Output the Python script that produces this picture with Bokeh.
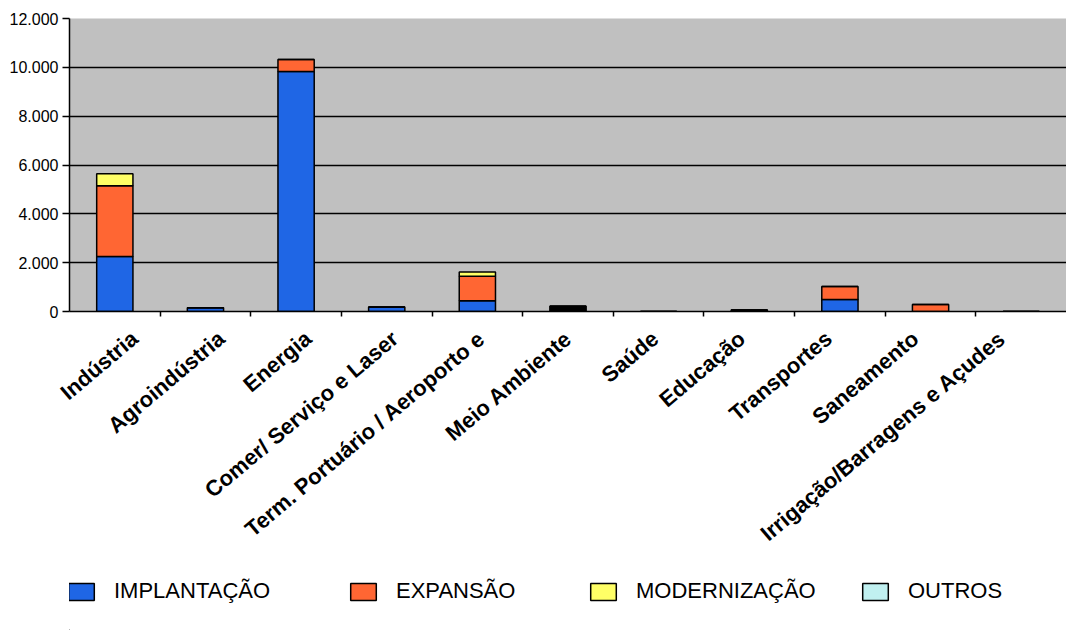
import numpy as np
from bokeh.plotting import figure
from bokeh.layouts import column
from bokeh.models import ColumnDataSource, Range1d, FixedTicker, Legend, LegendItem
from bokeh.embed import file_html
from bokeh.resources import INLINE

categories = ["Indústria", "Agroindústria", "Energia", "Comer/ Serviço e Laser",
              "Term. Portuário / Aeroporto e", "Meio Ambiente", "Saúde", "Educação",
              "Transportes", "Saneamento", "Irrigação/Barragens e Açudes"]
implantacao = [2250, 150, 9830, 180, 440, 220, 0, 60, 490, 0, 0]
expansao = [2900, 0, 490, 0, 1000, 0, 0, 0, 530, 290, 0]
modernizacao = [490, 0, 0, 0, 180, 0, 0, 0, 0, 0, 0]
outros = [0] * 11
series_names = ["IMPLANTAÇÃO", "EXPANSÃO", "MODERNIZAÇÃO", "OUTROS"]
series_colors = ["#1f66e5", "#ff6633", "#ffff66", "#c0f0f0"]
implantacao_fill = ["#1f66e5"] * 5 + ["#000000"] + ["#1f66e5"] * 5
y_ticks = [0, 2000, 4000, 6000, 8000, 10000, 12000]
y_labels = ["0", "2.000", "4.000", "6.000", "8.000", "10.000", "12.000"]

n = len(categories)
centers = [i + 0.5 for i in range(n)]
bounds = [i for i in range(1, n)]
# label anchors (the original's labels sit on a slightly tighter pitch than the bars)
label_pos = [0.72 + i * 0.957 for i in range(n)]

p = figure(width=1066, height=570, output_backend="svg", toolbar_location=None,
           x_range=Range1d(0, n), y_range=Range1d(0, 12000),
           min_border_left=69, min_border_right=0, min_border_top=18, min_border_bottom=259)
p.background_fill_color = "#c0c0c0"
p.border_fill_color = "white"
p.outline_line_color = None

vals = np.array([implantacao, expansao, modernizacao, outros], dtype=float)
cum = np.vstack([np.zeros(n), np.cumsum(vals, axis=0)])
for k in range(3):
    fills = implantacao_fill if k == 0 else [series_colors[k]] * n
    src = ColumnDataSource(dict(x=centers, bottom=cum[k], top=cum[k + 1], fill=fills))
    p.vbar(x="x", bottom="bottom", top="top", width=0.4, source=src,
           fill_color="fill", line_color="black", line_width=1.5)

p.xgrid.visible = False
p.ygrid.ticker = FixedTicker(ticks=y_ticks)
p.ygrid.grid_line_color = "black"
p.ygrid.grid_line_width = 1.5

p.yaxis.ticker = FixedTicker(ticks=y_ticks)
p.yaxis.major_label_overrides = {t: l for t, l in zip(y_ticks, y_labels)}
p.yaxis.major_label_text_font = "Liberation Sans"
p.yaxis.major_label_text_font_size = "16px"
p.yaxis.major_label_text_color = "black"
p.yaxis.axis_line_color = "black"
p.yaxis.axis_line_width = 1.5
p.yaxis.major_tick_out = 7
p.yaxis.major_tick_in = 0
p.yaxis.minor_tick_out = 0
p.yaxis.major_tick_line_width = 1.5
p.yaxis.major_label_standoff = 4

p.xaxis.ticker = FixedTicker(ticks=label_pos, minor_ticks=bounds)
p.xaxis.major_label_overrides = {c: l for c, l in zip(label_pos, categories)}
p.xaxis.major_label_orientation = 0.70
p.xaxis.major_label_text_font = "Liberation Sans"
p.xaxis.major_label_text_font_style = "bold"
p.xaxis.major_label_text_font_size = "22px"
p.xaxis.major_label_text_color = "black"
p.xaxis.major_tick_out = 0
p.xaxis.major_tick_in = 0
p.xaxis.minor_tick_out = 5
p.xaxis.minor_tick_in = 0
p.xaxis.minor_tick_line_color = "black"
p.xaxis.minor_tick_line_width = 1.5
p.xaxis.axis_line_color = "black"
p.xaxis.axis_line_width = 1.5
p.xaxis.major_label_standoff = 19

# legend figure (legend proxies lie outside its visible range)
p2 = figure(width=1066, height=60, output_backend="svg", toolbar_location=None,
            x_range=Range1d(0, 1), y_range=Range1d(0, 1),
            x_axis_location=None, y_axis_location=None,
            min_border_left=0, min_border_right=0, min_border_top=0, min_border_bottom=0)
p2.grid.visible = False
p2.outline_line_color = None
p2.background_fill_color = "white"
xs = [-4, 278, 518, 790]
for k, name in enumerate(series_names):
    r = p2.vbar(x=[-5], top=[-5], bottom=[-6], width=0.1, fill_color=series_colors[k],
                line_color="black", line_width=1.5)
    leg = Legend(items=[LegendItem(label=name, renderers=[r])],
                 location=(xs[k], 26), orientation="horizontal",
                 glyph_width=32, glyph_height=21, label_standoff=17,
                 label_text_font="Liberation Sans", label_text_font_size="22px",
                 label_text_color="black", padding=0, margin=0, spacing=0,
                 border_line_color=None, background_fill_alpha=0)
    p2.add_layout(leg, "center")

layout = column(p, p2, spacing=0)
open("out.html", "w").write(file_html(layout, INLINE))
